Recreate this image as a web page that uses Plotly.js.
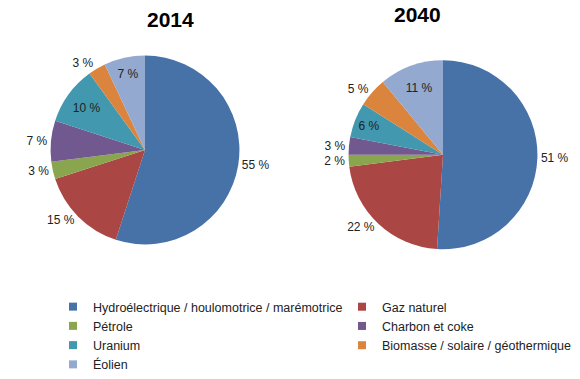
<!DOCTYPE html>
<html><head><meta charset="utf-8">
<script src="https://cdn.plot.ly/plotly-3.0.1.min.js"></script>
<style>html,body{margin:0;padding:0;background:#fff}</style>
</head><body><div id="chart" style="width:580px;height:379px"></div>
<script>
const categories = ["Hydroélectrique / houlomotrice / marémotrice","Gaz naturel","Pétrole","Charbon et coke","Uranium","Biomasse / solaire / géothermique","Éolien"];
const values2014 = [55, 15, 3, 7, 10, 3, 7];
const values2040 = [51, 22, 2, 3, 6, 5, 11];
const years = ["2014", "2040"];
const colors = ["#4672A8","#AA4643","#89A54E","#71588F","#4198AF","#DB843D","#93A9CF"];
const pos2014 = ["outside","outside","outside","outside","inside","outside","inside"];
const pos2040 = ["outside","outside","outside","outside","inside","outside","inside"];

const font = "Liberation Sans, Arial, sans-serif";
function pie(vals, pos, dom) {
  return {
    type: "pie", labels: categories, values: vals, sort: false, direction: "clockwise", rotation: 0,
    marker: {colors: colors, line: {width: 0}},
    text: vals.map(v => v + " %"), textinfo: "text", textposition: pos,
    insidetextorientation: "horizontal",
    textfont: {family: font, size: 12, color: "#222"},
    domain: dom, showlegend: false, hoverinfo: "label+percent"
  };
}
const data = [
  pie(values2014, pos2014, {x: [48/580, 242/580], y: [1 - 251/379, 1 - 57/379]}),
  pie(values2040, pos2040, {x: [346/580, 540/580], y: [1 - 256/379, 1 - 62/379]})
];
// legend entries (two columns, like the reference)
categories.forEach((c, i) => {
  data.push({type: "scatter", mode: "markers", x: [null], y: [null], name: c,
    marker: {symbol: "square", size: 8, color: colors[i]},
    showlegend: true, legend: i % 2 === 0 ? "legend" : "legend2", hoverinfo: "skip"});
});
const legendBase = {orientation: "v", xanchor: "left", yanchor: "top", y: 1 - 300/379,
  font: {size: 12.5, color: "#222"}, traceorder: "normal", itemwidth: 30, bgcolor: "rgba(0,0,0,0)"};
const layout = {
  width: 580, height: 379, margin: {l: 0, r: 0, t: 0, b: 0},
  paper_bgcolor: "#fff", plot_bgcolor: "#fff", font: {family: font, color: "#222"},
  xaxis: {visible: false}, yaxis: {visible: false},
  annotations: [
    {text: "<b>" + years[0] + "</b>", x: 0.25, y: 1 - 20/379, xref: "paper", yref: "paper", yanchor: "middle", showarrow: false, font: {size: 21, color: "#000"}},
    {text: "<b>" + years[1] + "</b>", x: 0.764, y: 1 - 15/379, xref: "paper", yref: "paper", yanchor: "middle", showarrow: false, font: {size: 21, color: "#000"}}
  ],
  legend: Object.assign({}, legendBase, {x: 53/580}),
  legend2: Object.assign({}, legendBase, {x: 342/580})
};
Plotly.newPlot("chart", data, layout, {displayModeBar: false, staticPlot: true});
</script></body></html>
